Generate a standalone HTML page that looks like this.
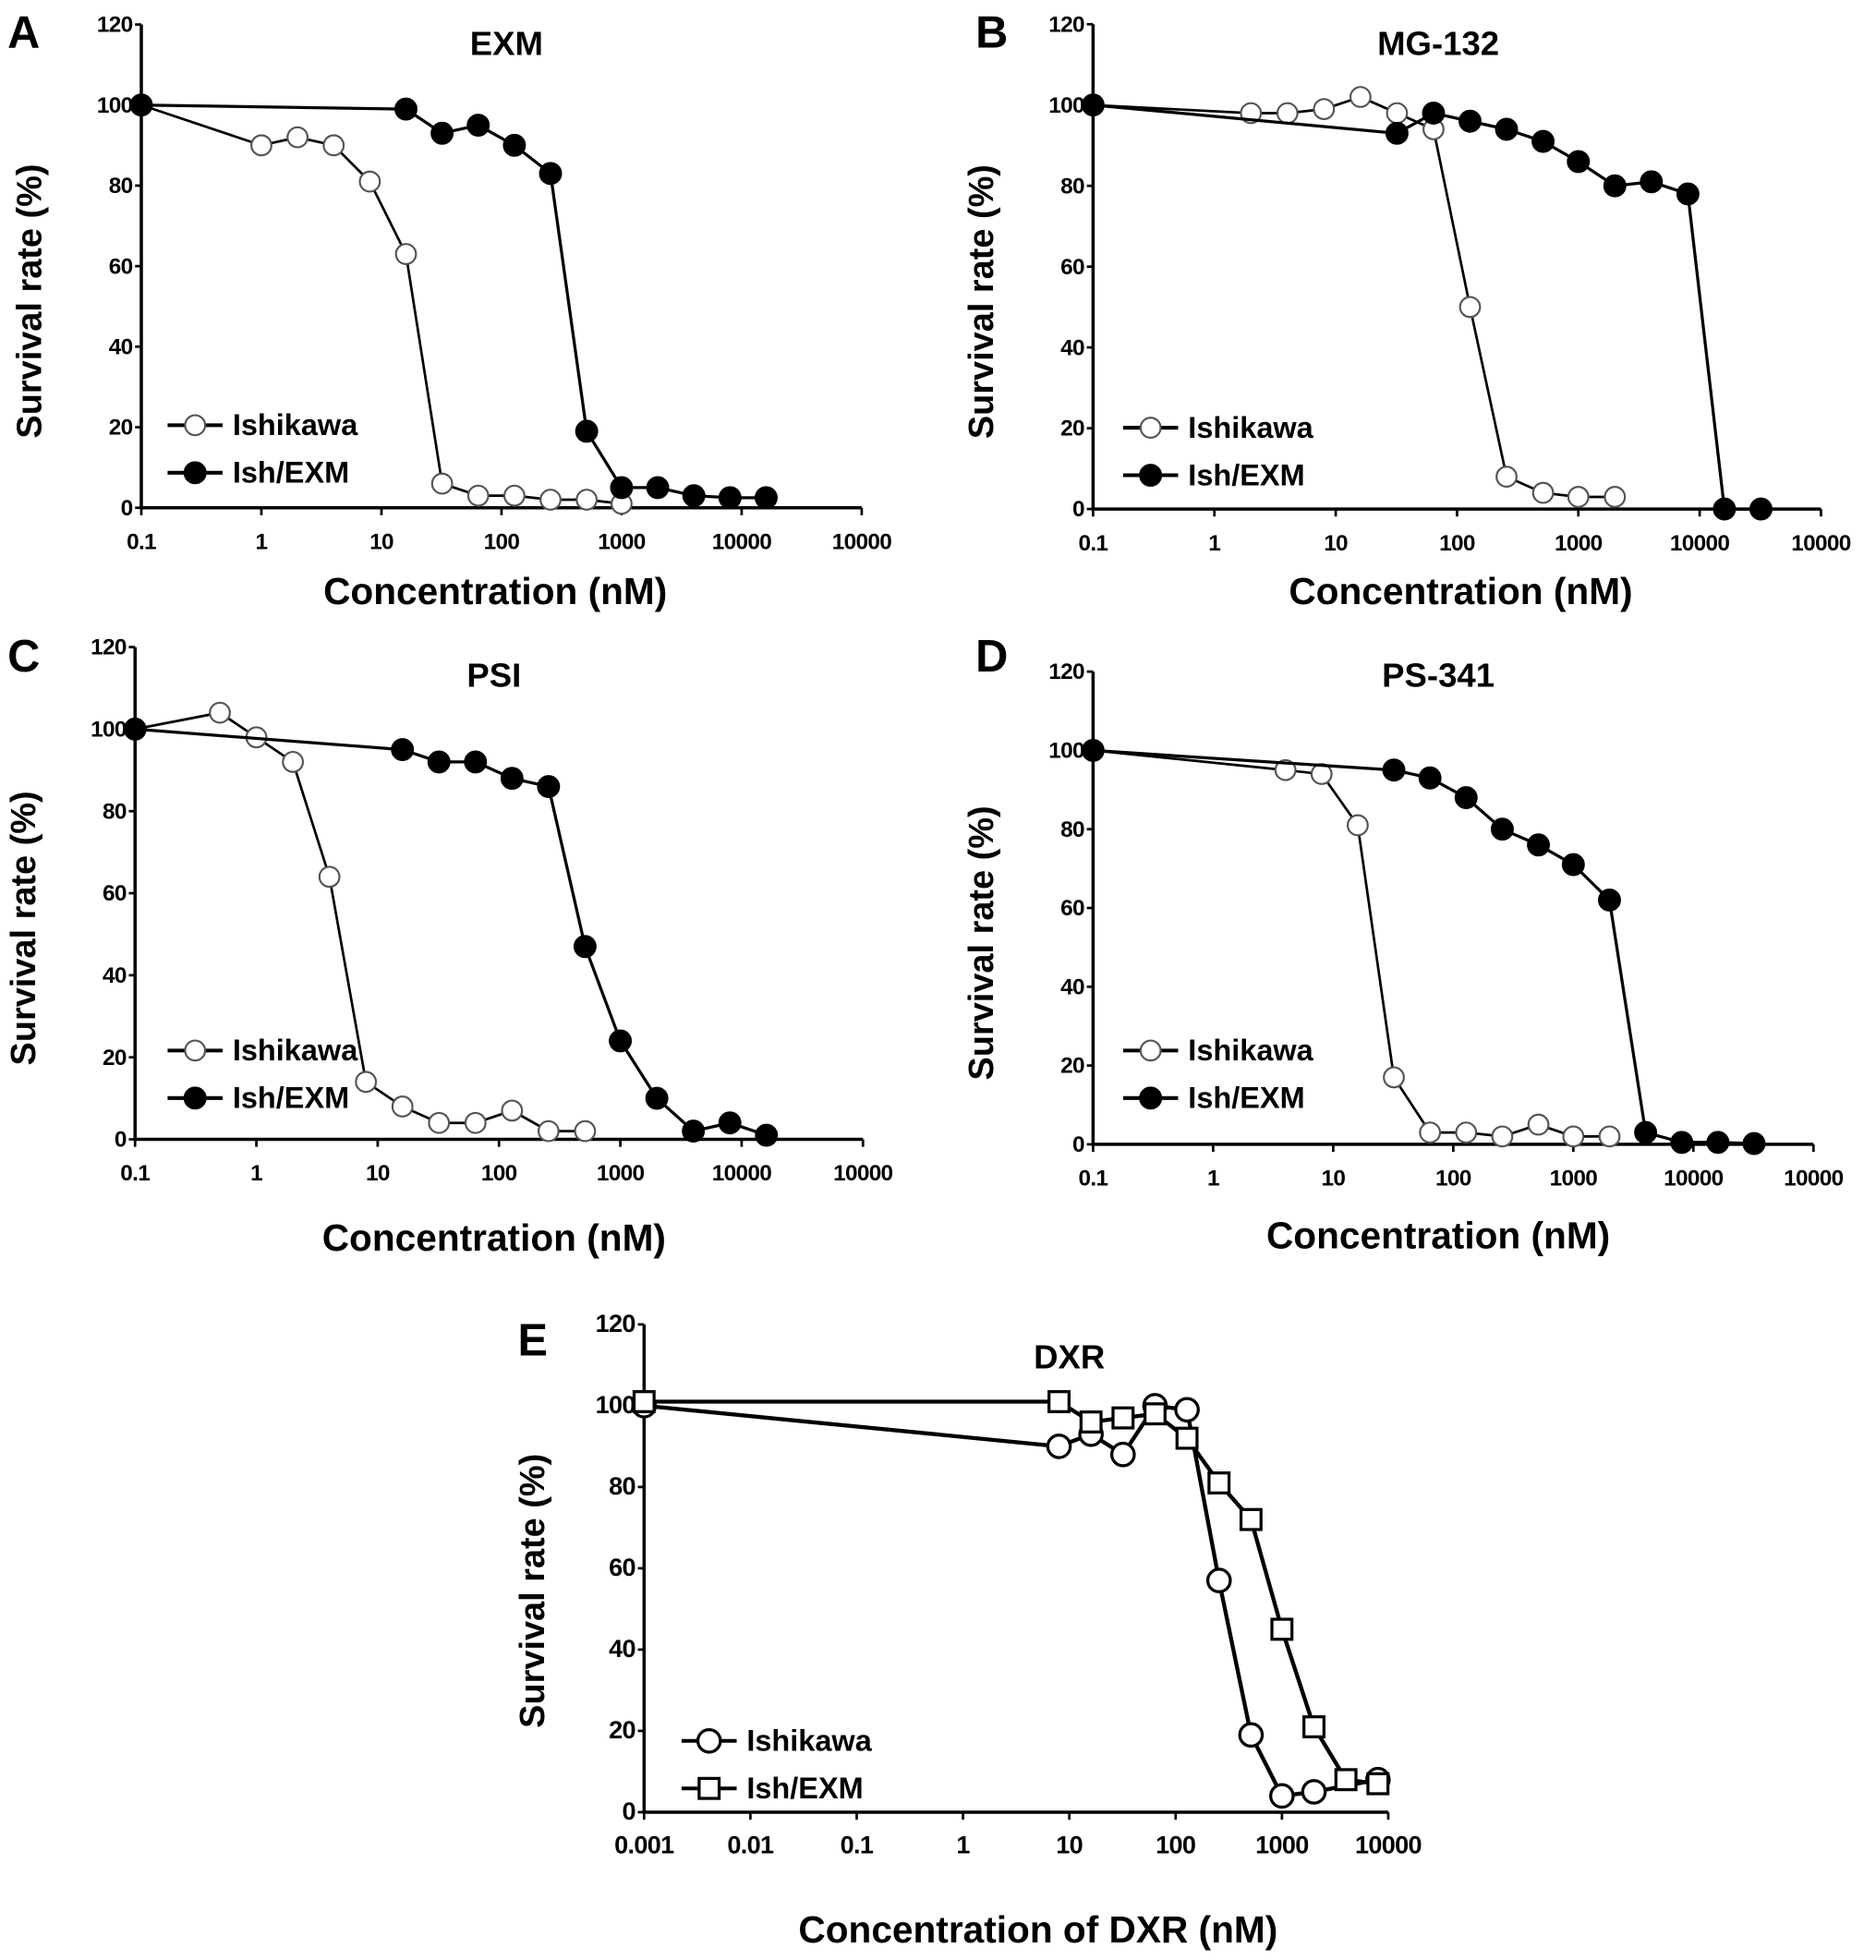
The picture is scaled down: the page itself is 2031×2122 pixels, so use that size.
<!DOCTYPE html>
<html><head><meta charset="utf-8"><style>
html,body{margin:0;padding:0;background:#fff;}
svg{display:block;}
text{font-family:"Liberation Sans",sans-serif;fill:#000;}
</style></head><body>
<svg id="fig" width="2031" height="2122" viewBox="0 0 1500 1567.2" xmlns="http://www.w3.org/2000/svg"></svg>
<script>
// ---- Panel A: EXM ----
const aIshX = [0.1,1,2,4,8,16,32,64,128,256,512,1000];
const aIshY = [100,90,92,90,81,63,6,3,3,2,2,1];
const aExmX = [0.1,16,32,64,128,256,512,1000,2000,4000,8000,16000];
const aExmY = [100,99,93,95,90,83,19,5,5,3,2.5,2.5];
// ---- Panel B: MG-132 ----
const bIshX = [0.1,2,4,8,16,32,64,128,256,512,1000,2000];
const bIshY = [100,98,98,99,102,98,94,50,8,4,3,3];
const bExmX = [0.1,32,64,128,256,512,1000,2000,4000,8000,16000,32000];
const bExmY = [100,93,98,96,94,91,86,80,81,78,0,0];
// ---- Panel C: PSI ----
const cIshX = [0.1,0.5,1,2,4,8,16,32,64,128,256,512];
const cIshY = [100,104,98,92,64,14,8,4,4,7,2,2];
const cExmX = [0.1,16,32,64,128,256,512,1000,2000,4000,8000,16000];
const cExmY = [100,95,92,92,88,86,47,24,10,2,4,1];
// ---- Panel D: PS-341 ----
const dIshX = [0.1,4,8,16,32,64,128,256,512,1000,2000];
const dIshY = [100,95,94,81,17,3,3,2,5,2,2];
const dExmX = [0.1,32,64,128,256,512,1000,2000,4000,8000,16000,32000];
const dExmY = [100,95,93,88,80,76,71,62,3,0.5,0.5,0.2];
// ---- Panel E: DXR ----
const eIshX = [0.001,8,16,32,64,128,256,512,1000,2000,8000];
const eIshY = [100,90,93,88,100,99,57,19,4,5,8];
const eExmX = [0.001,8,16,32,64,128,256,512,1000,2000,4000,8000];
const eExmY = [101,101,96,97,98,92,81,72,45,21,8,7];
const yTicks = [0,20,40,60,80,100,120];
const xTicksABCD = ["0.1","1","10","100","1000","10000","10000"];
const xTicksE = ["0.001","0.01","0.1","1","10","100","1000","10000"];

const NS="http://www.w3.org/2000/svg";
const svg=document.getElementById('fig');
function mk(tag,attrs,parent){const e=document.createElementNS(NS,tag);for(const k in attrs)e.setAttribute(k,attrs[k]);(parent||svg).appendChild(e);return e;}
function txt(s,attrs,parent){const e=mk('text',attrs,parent);e.textContent=s;return e;}

function panel(p){
  const g=mk('g',{});
  
  
  const xs=v=>p.x0+(Math.log10(v)-p.minLog)*p.dec;
  const ys=v=>p.y0-(v/100)*(p.y0-p.y100);
  const xEnd=p.x0+(p.xTicks.length-1)*p.dec;
  const ax=mk('path',{d:`M${p.x0} ${ys(120)} V${p.y0} H${xEnd}`,stroke:'#000','stroke-width':2.6,fill:'none'},g);
  
  
  yTicks.forEach(t=>{
    mk('line',{x1:p.x0-5,x2:p.x0,y1:ys(t),y2:ys(t),stroke:'#000','stroke-width':2},g);
    const l=txt(String(t),{x:p.x0-7,y:ys(t)+6,'font-size':p.fs,'font-weight':'bold','text-anchor':'end','letter-spacing':-0.5},g);
    
    
  });
  p.xTicks.forEach((t,i)=>{
    const x=p.x0+i*p.dec;
    mk('line',{x1:x,x2:x,y1:p.y0,y2:p.y0+6,stroke:'#000','stroke-width':2},g);
    const l=txt(t,{x:x,y:p.y0+33,'font-size':p.fs,'font-weight':'bold','text-anchor':'middle','letter-spacing':-0.5},g);
    
    
  });
  const title=txt(p.title,{x:p.tx,y:p.ty,'font-size':27,'font-weight':'bold','text-anchor':'middle'},g);
  
  
  const letter=txt(p.id,{x:p.lx,y:p.ly,'font-size':36,'font-weight':'bold'},g);
  
  
  const xl=txt(p.xlabel,{x:p.xlx,y:p.xly,'font-size':30,'font-weight':'bold','text-anchor':'middle'},g);
  
  
  const ylx=p.x0-p.ylOff, yly=(ys(0)+ys(120))/2+p.ylDy;
  const yl=txt('Survival rate (%)',{x:ylx,y:yly,'font-size':28,'font-weight':'bold','text-anchor':'middle',transform:`rotate(-90 ${ylx} ${yly})`},g);
  
  
  function marker(x,y,kind,parent){
    if(kind==='sq') return mk('rect',{x:x-8,y:y-8,width:16,height:16,fill:'#fff',stroke:'#000','stroke-width':2.4},parent);
    return mk('circle',{cx:x,cy:y,r:kind==='ce'?9:8,fill:kind==='filled'?'#000':'#fff',stroke:kind==='open'?'#555':'#000','stroke-width':kind==='open'?1.6:2.4},parent);
  }
  p.series.forEach(s=>{
    const sg=mk('g',{},g);
    
    
    const pts=s.x.map((v,i)=>[xs(v),ys(s.y[i])]);
    mk('polyline',{points:pts.map(q=>q.join(',')).join(' '),fill:'none',stroke:'#000','stroke-width':s.lw},sg);
    pts.forEach(q=>{
      const m=marker(q[0],q[1],s.kind,sg);
      
      
    });
  });
  p.series.forEach((s,i)=>{
    const lg=mk('g',{},g);
    
    
    const ly=p.legY+i*38;
    mk('line',{x1:p.legX-22,x2:p.legX+22,y1:ly,y2:ly,stroke:'#000','stroke-width':3},lg);
    marker(p.legX,ly,s.kind,lg);
    txt(s.name,{x:p.legX+30,y:ly+8,'font-size':24,'font-weight':'bold'},lg);
  });
}

const base={minLog:-1,xTicks:xTicksABCD,fs:18,xlabel:'Concentration (nM)',ylOff:80,ylDy:28};
panel(Object.assign({},base,{id:'A',title:'EXM',x0:113,y0:406,y100:84,dec:96,tx:405,ty:44,lx:6,ly:38,xlx:396,xly:483,legX:156,legY:340,
  series:[{name:'Ishikawa',x:aIshX,y:aIshY,kind:'open',lw:2},{name:'Ish/EXM',x:aExmX,y:aExmY,kind:'filled',lw:2.4}]}));
panel(Object.assign({},base,{id:'B',title:'MG-132',x0:874,y0:407,y100:84,dec:97,tx:1150,ty:44,lx:780,ly:38,xlx:1168,xly:483,legX:920,legY:342,
  series:[{name:'Ishikawa',x:bIshX,y:bIshY,kind:'open',lw:2},{name:'Ish/EXM',x:bExmX,y:bExmY,kind:'filled',lw:2.4}]}));
panel(Object.assign({},base,{id:'C',title:'PSI',x0:108,y0:911,y100:583,dec:97,tx:395,ty:549,lx:6,ly:537,xlx:395,xly:1000,legX:156,legY:840,
  series:[{name:'Ishikawa',x:cIshX,y:cIshY,kind:'open',lw:2},{name:'Ish/EXM',x:cExmX,y:cExmY,kind:'filled',lw:2.4}]}));
panel(Object.assign({},base,{id:'D',title:'PS-341',x0:874,y0:915,y100:600,dec:96,tx:1150,ty:549,lx:780,ly:537,xlx:1150,xly:998,legX:920,legY:840,
  series:[{name:'Ishikawa',x:dIshX,y:dIshY,kind:'open',lw:2},{name:'Ish/EXM',x:dExmX,y:dExmY,kind:'filled',lw:2.4}]}));
panel({id:'E',title:'DXR',minLog:-3,xTicks:xTicksE,fs:20,xlabel:'Concentration of DXR (nM)',ylOff:80,ylDy:18,x0:515,y0:1449,y100:1124,dec:85,tx:855,ty:1094,lx:414,ly:1084,xlx:830,xly:1553,legX:567,legY:1392,
  series:[{name:'Ishikawa',x:eIshX,y:eIshY,kind:'ce',lw:3.2},{name:'Ish/EXM',x:eExmX,y:eExmY,kind:'sq',lw:3.2}]});
</script>
</body></html>
